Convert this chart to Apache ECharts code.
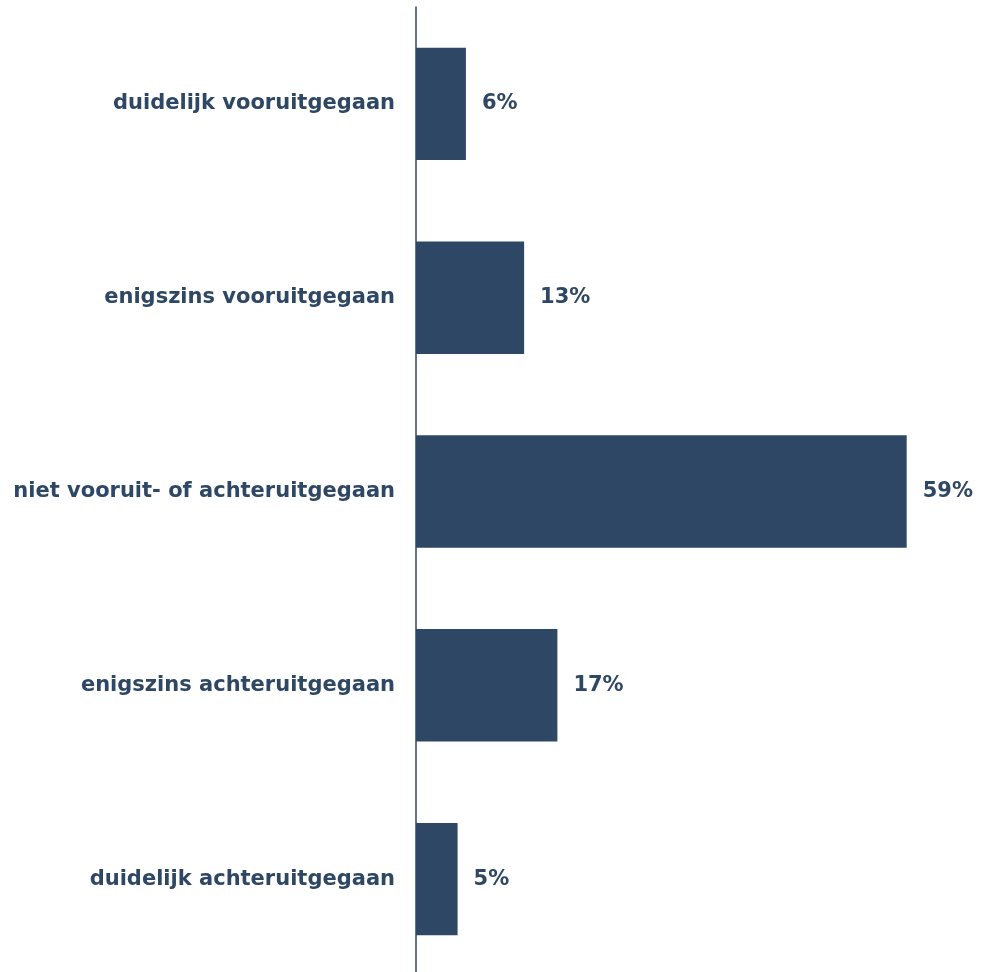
<!DOCTYPE html>
<html>
<head>
<meta charset="utf-8">
<script src="https://cdn.jsdelivr.net/npm/echarts@6/dist/echarts.min.js"></script>
<style>
  html, body { margin: 0; padding: 0; background: #ffffff; }
  #chart { width: 984px; height: 972px; }
</style>
</head>
<body>
<div id="chart"></div>
<script>
// Categories, top to bottom
const categories = [
  'duidelijk vooruitgegaan',
  'enigszins vooruitgegaan',
  'niet vooruit- of achteruitgegaan',
  'enigszins achteruitgegaan',
  'duidelijk achteruitgegaan'
];
// Share of respondents (%)
const values = [6, 13, 59, 17, 5];

const navy = '#2d4764';
const font = '"DejaVu Sans", Verdana, sans-serif';

const chart = echarts.init(document.getElementById('chart'), null, { renderer: 'canvas' });
chart.setOption({
  animation: false,
  backgroundColor: '#ffffff',
  grid: {
    left: 416, width: 499, top: 7, height: 969,
    containLabel: false,
    outerBoundsMode: 'none'
  },
  xAxis: {
    type: 'value',
    min: 0,
    max: 60,
    show: false
  },
  yAxis: {
    type: 'category',
    data: categories,
    inverse: true,
    axisLine: { show: true, lineStyle: { color: navy, width: 1.5 } },
    axisTick: { show: false },
    axisLabel: {
      margin: 21,
      color: navy,
      fontFamily: font,
      fontWeight: 'bold',
      fontSize: 21
    }
  },
  series: [{
    type: 'bar',
    data: values,
    barCategoryGap: '42%',
    itemStyle: { color: navy },
    label: {
      show: true,
      position: 'right',
      distance: 16,
      formatter: p => p.value + '%',
      color: navy,
      fontFamily: font,
      fontWeight: 'bold',
      fontSize: 21
    }
  }]
});
</script>
</body>
</html>
